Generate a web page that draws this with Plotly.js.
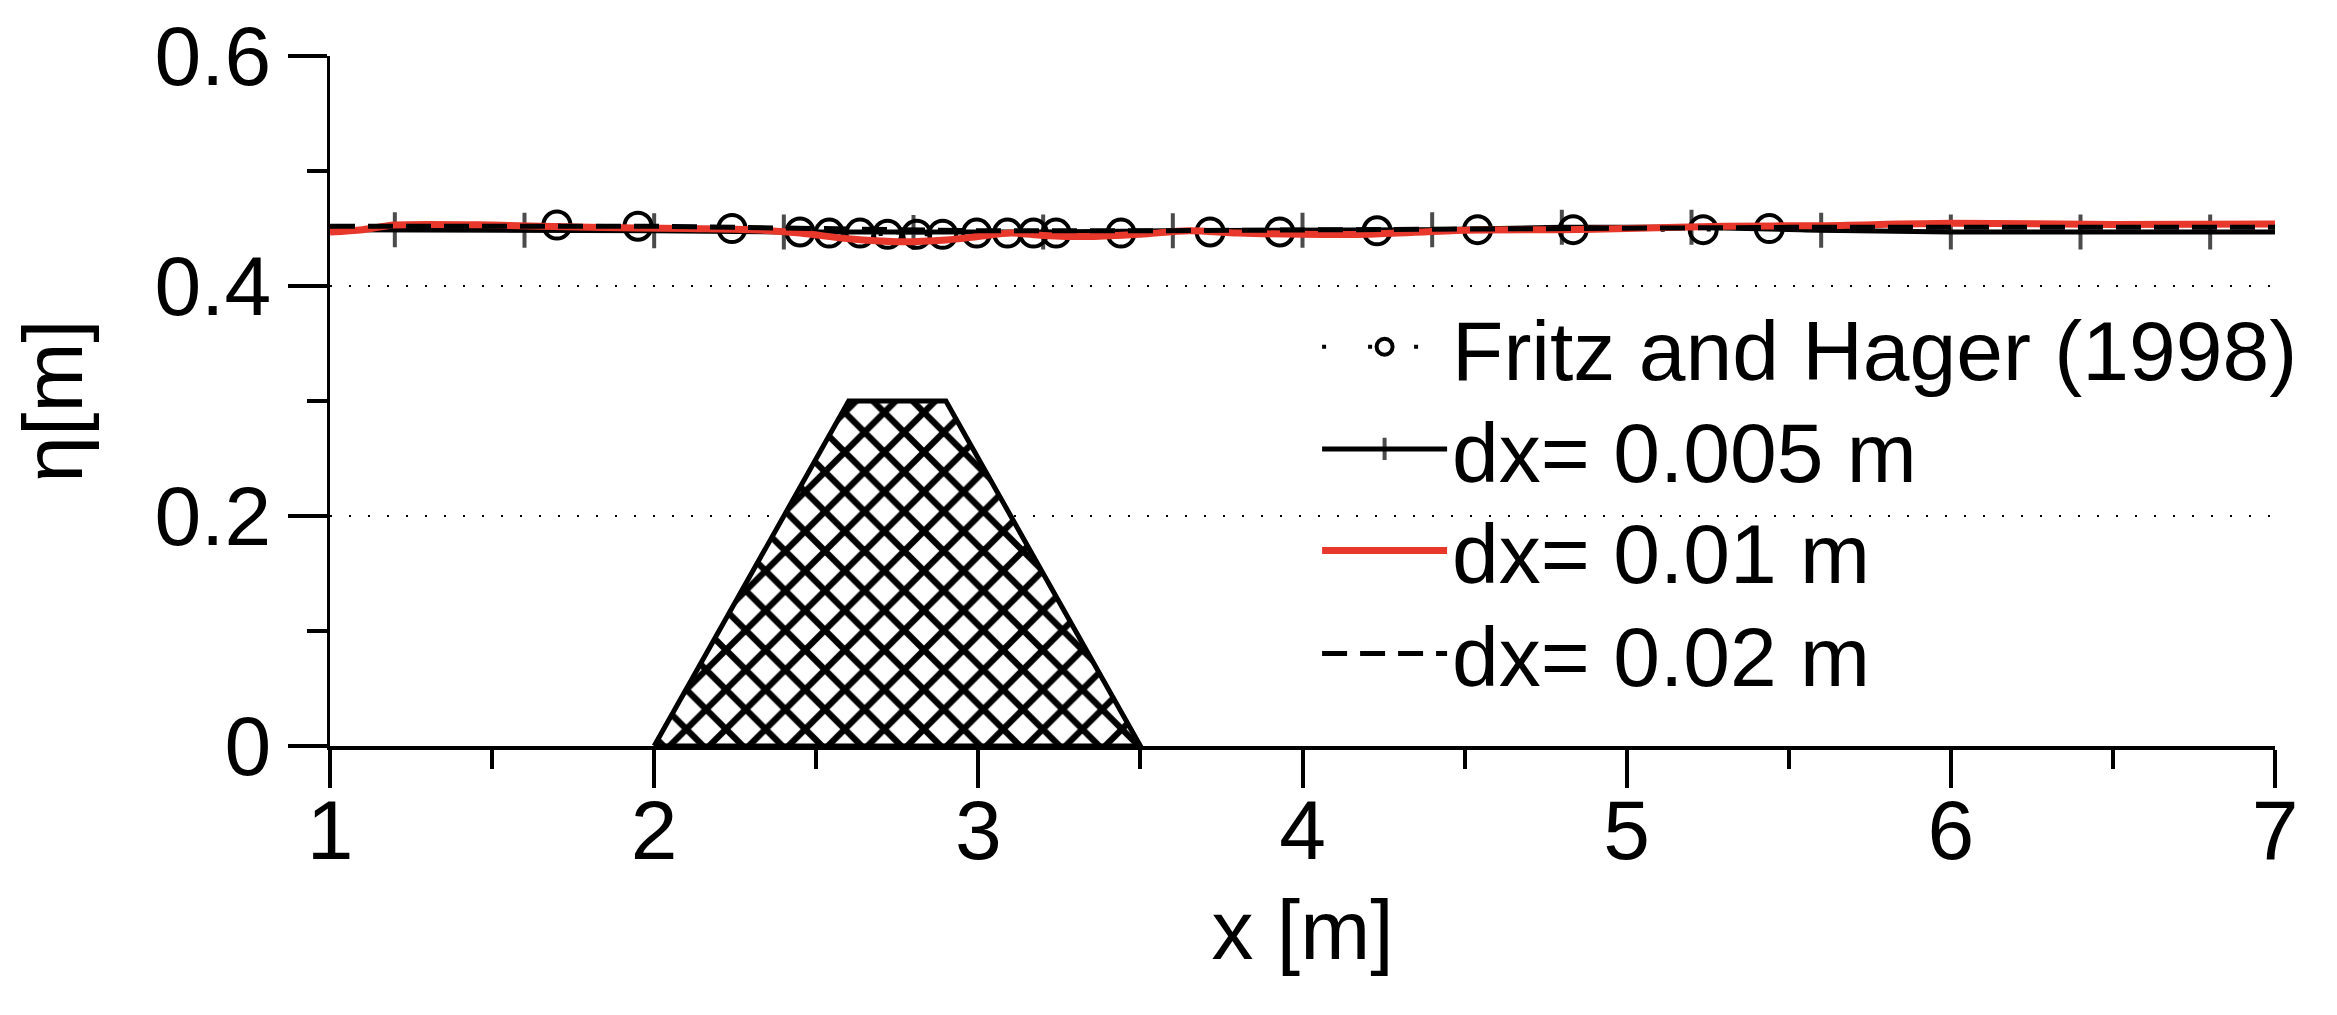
<!DOCTYPE html>
<html>
<head>
<meta charset="utf-8">
<script src="https://cdn.plot.ly/plotly-3.0.1.min.js"></script>
<style>
  html, body { margin: 0; padding: 0; background: #fff; }
  #chart { width: 2337px; height: 1015px; }
</style>
</head>
<body>
<div id="chart"></div>
<script>
// measured free surface eta [m] along the flume
const fritzX = [1.70, 1.95, 2.24, 2.45, 2.54, 2.635, 2.72, 2.81, 2.89, 2.995, 3.09, 3.17, 3.24, 3.44, 3.715, 3.93, 4.23, 4.54, 4.835, 5.236, 5.44];
const fritzY = [0.453, 0.452, 0.450, 0.447, 0.446, 0.446, 0.445, 0.445, 0.445, 0.446, 0.446, 0.446, 0.446, 0.446, 0.447, 0.447, 0.448, 0.449, 0.449, 0.449, 0.450];

// dx = 0.005 m
const fineX = [1.0, 1.2, 1.6, 2.0, 2.4, 2.8, 3.2, 3.6, 4.0, 4.4, 4.8, 5.2, 5.6, 6.0, 6.4, 6.8, 7.0];
const fineY = [0.449, 0.449, 0.4485, 0.448, 0.447, 0.4465, 0.447, 0.448, 0.4485, 0.449, 0.451, 0.451, 0.4485, 0.447, 0.447, 0.447, 0.447];

// dx = 0.01 m
const midX = [1.0, 1.1, 1.2, 1.5, 1.8, 2.1, 2.3, 2.45, 2.6, 2.75, 2.9, 3.0, 3.1, 3.2, 3.35, 3.5, 3.65, 3.8, 4.0, 4.2, 4.5, 4.8, 5.0, 5.3, 5.6, 6.0, 6.5, 7.0];
const midY = [0.447, 0.449, 0.453, 0.453, 0.451, 0.450, 0.449, 0.446, 0.441, 0.4385, 0.440, 0.443, 0.446, 0.444, 0.443, 0.445, 0.448, 0.446, 0.445, 0.445, 0.4485, 0.449, 0.450, 0.452, 0.4525, 0.4545, 0.4535, 0.454];

// dx = 0.02 m
const coarseX = [1.0, 1.5, 2.0, 2.5, 3.0, 3.5, 4.0, 4.5, 5.0, 5.5, 6.0, 6.5, 7.0];
const coarseY = [0.452, 0.452, 0.452, 0.450, 0.448, 0.448, 0.449, 0.450, 0.450, 0.451, 0.451, 0.451, 0.451];

// trapezoidal obstacle
const obstacleX = [2.0, 2.6, 2.9, 3.5, 2.0];
const obstacleY = [0.0, 0.3, 0.3, 0.0, 0.0];

const seriesNames = ['Fritz and Hager (1998)', 'dx= 0.005 m', 'dx= 0.01 m', 'dx= 0.02 m'];
const yTicks = [0, 0.2, 0.4, 0.6];
const yTickText = ['0', '0.2', '0.4', '0.6'];
const xTicks = [1, 2, 3, 4, 5, 6, 7];

const FONT = '"Liberation Sans", Arial, Helvetica, sans-serif';
const RED = '#e8382b';

const fineSizes = fineX.map((v, i) => (i === 0 || i === fineX.length - 1) ? 0 : 25);

const traces = [
  {
    x: obstacleX, y: obstacleY, type: 'scatter', mode: 'lines',
    fill: 'toself', fillcolor: 'white',
    fillpattern: { shape: 'x', fgcolor: 'black', bgcolor: 'white', size: 28, solidity: 0.4 },
    line: { color: 'black', width: 5 },
    showlegend: false, hoverinfo: 'skip'
  },
  {
    x: fritzX, y: fritzY, name: seriesNames[0], type: 'scatter', mode: 'lines+markers',
    legend: 'legend',
    line: { color: 'black', width: 4, dash: '4px,42px' },
    marker: { symbol: 'circle-open', size: 27, color: 'black', line: { color: 'black', width: 4 } }
  },
  {
    x: fineX, y: fineY, name: seriesNames[1], type: 'scatter', mode: 'lines+markers',
    legend: 'legend2',
    line: { color: 'black', width: 5 },
    marker: { symbol: 'cross-thin', size: fineSizes, color: 'black', line: { color: 'black', width: 4 } }
  },
  {
    x: midX, y: midY, name: seriesNames[2], type: 'scatter', mode: 'lines',
    legend: 'legend3',
    line: { color: RED, width: 7, shape: 'spline', smoothing: 0.8 }
  },
  {
    x: coarseX, y: coarseY, name: seriesNames[3], type: 'scatter', mode: 'lines',
    legend: 'legend4',
    line: { color: 'black', width: 5, dash: '25px,13px' }
  }
];

// one legend per entry so the row spacing can follow the original
const legendRowY = [0.578, 0.430, 0.2826, 0.1333];
const legendBase = (y) => ({
  x: 0.5075, y: y, xanchor: 'left', yanchor: 'middle',
  bgcolor: 'rgba(0,0,0,0)', borderwidth: 0,
  font: { family: FONT, size: 84, color: 'black' },
  itemwidth: 125
});

const layout = {
  width: 2337, height: 1015,
  paper_bgcolor: 'white', plot_bgcolor: 'white',
  margin: { l: 330, r: 62, t: 56, b: 269 },
  font: { family: FONT, size: 84, color: 'black' },
  showlegend: true,
  legend: legendBase(legendRowY[0]),
  legend2: legendBase(legendRowY[1]),
  legend3: legendBase(legendRowY[2]),
  legend4: legendBase(legendRowY[3]),
  xaxis: {
    range: [1, 7], tickvals: xTicks, ticks: 'outside', ticklen: 38, tickwidth: 4, tickcolor: 'black',
    showline: true, linewidth: 4, linecolor: 'black', mirror: false,
    showgrid: false, zeroline: false, ticklabelstandoff: -30,
    minor: { dtick: 0.5, ticks: 'outside', ticklen: 19, tickwidth: 4, tickcolor: 'black', showgrid: false },
    title: { text: 'x [m]', font: { family: FONT, size: 84 }, standoff: 25 }
  },
  yaxis: {
    range: [0, 0.6], tickvals: yTicks, ticktext: yTickText, ticks: 'outside', ticklen: 39, tickwidth: 4, tickcolor: 'black',
    showline: true, linewidth: 3, linecolor: 'black', mirror: false,
    showgrid: true, gridcolor: 'black', gridwidth: 2, griddash: '2px,17px', zeroline: false,
    minor: { dtick: 0.1, ticks: 'outside', ticklen: 20, tickwidth: 4, tickcolor: 'black', showgrid: false },
    title: { text: 'η[m]', font: { family: FONT, size: 84 }, standoff: 45 }
  }
};

Plotly.newPlot('chart', traces, layout, { displayModeBar: false, staticPlot: true });
</script>
</body>
</html>
